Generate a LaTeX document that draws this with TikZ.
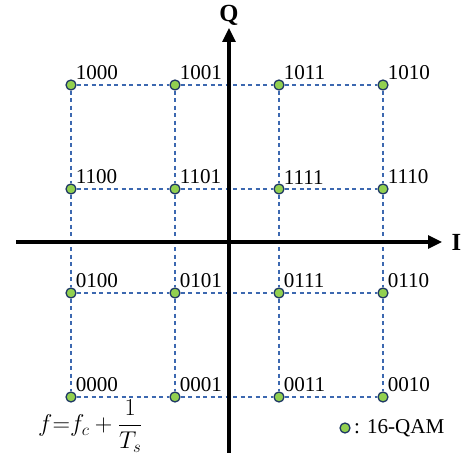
\documentclass[tikz,border=0pt]{standalone}
\usepackage{fontspec}
\setmainfont{Liberation Serif}
\usepackage{amsmath}
\usepackage{tikz}
\usetikzlibrary{arrows.meta, positioning}
\definecolor{mygreen}{RGB}{146,208,80}
\definecolor{mynavy}{RGB}{31,56,100}
\definecolor{mydash}{RGB}{60,104,176}
\tikzset{
  qamdot/.style={circle, draw=mynavy, fill=mygreen,
    minimum size=0.3cm, inner sep=0pt, line width=1.1pt},
  bitlabel/.style={anchor=south west, inner sep=0.5pt,
    font=\fontsize{18}{21}\selectfont},
  gridline/.style={dash pattern=on 3.6pt off 2.8pt, color=mydash, line width=0.9pt},
  axis/.style={-{Triangle[length=0.42cm, width=0.39cm]}, line width=2.6pt, color=black},
  axislabel/.style={font=\fontsize{21}{24}\selectfont\bfseries, inner sep=0pt},
  legendtext/.style={font=\fontsize{18}{21}\selectfont, inner sep=0pt}
}

\begin{document}
\begin{tikzpicture}[x=0.03cm, y=-0.03cm]
  \useasboundingbox (0,0) rectangle (466,458);
  % constellation points
  \node[qamdot, label={[bitlabel]north east:1000}] (p1000) at (71,85) {};
  \node[qamdot, label={[bitlabel]north east:1001}] (p1001) at (175,85) {};
  \node[qamdot, label={[bitlabel]north east:1011}] (p1011) at (279,85) {};
  \node[qamdot, label={[bitlabel]north east:1010}] (p1010) at (383,85) {};
  \node[qamdot, label={[bitlabel]north east:1100}] (p1100) at (71,189) {};
  \node[qamdot, label={[bitlabel]north east:1101}] (p1101) at (175,189) {};
  \node[qamdot, label={[bitlabel]north east:1111}] (p1111) at (279,189) {};
  \node[qamdot, label={[bitlabel]north east:1110}] (p1110) at (383,189) {};
  \node[qamdot, label={[bitlabel]north east:0100}] (p0100) at (71,293) {};
  \node[qamdot, label={[bitlabel]north east:0101}] (p0101) at (175,293) {};
  \node[qamdot, label={[bitlabel]north east:0111}] (p0111) at (279,293) {};
  \node[qamdot, label={[bitlabel]north east:0110}] (p0110) at (383,293) {};
  \node[qamdot, label={[bitlabel]north east:0000}] (p0000) at (71,397) {};
  \node[qamdot, label={[bitlabel]north east:0001}] (p0001) at (175,397) {};
  \node[qamdot, label={[bitlabel]north east:0011}] (p0011) at (279,397) {};
  \node[qamdot, label={[bitlabel]north east:0010}] (p0010) at (383,397) {};
  % dashed grid
  \draw[gridline] (p1000) -- (p1001) -- (p1011) -- (p1010);
  \draw[gridline] (p1100) -- (p1101) -- (p1111) -- (p1110);
  \draw[gridline] (p0100) -- (p0101) -- (p0111) -- (p0110);
  \draw[gridline] (p0000) -- (p0001) -- (p0011) -- (p0010);
  \draw[gridline] (p1000) -- (p1100) -- (p0100) -- (p0000);
  \draw[gridline] (p1001) -- (p1101) -- (p0101) -- (p0001);
  \draw[gridline] (p1011) -- (p1111) -- (p0111) -- (p0011);
  \draw[gridline] (p1010) -- (p1110) -- (p0110) -- (p0010);
  % I and Q axes
  \coordinate (ileft) at (16,242);
  \coordinate (iright) at (442,242);
  \coordinate (qbottom) at (229,453);
  \coordinate (qtop) at (229,28);
  \draw[axis] (ileft) -- (iright);
  \draw[axis] (qbottom) -- (qtop);
  \node[axislabel, right=0.28cm of iright] (ilabel) {I};
  \node[axislabel, above=0.08cm of qtop] (qlabel) {Q};
  % formula and legend
  \node[anchor=base west, inner sep=0pt, font=\fontsize{19.5}{23}\selectfont]
    (formula) at (38,432) {$f{=}f_c+\dfrac{1}{T_s}$};
  \node[qamdot] (legdot) at (345,428) {};
  \node[legendtext, right=0.1cm of legdot] (legtext) {: 16-QAM};
\end{tikzpicture}
\end{document}
